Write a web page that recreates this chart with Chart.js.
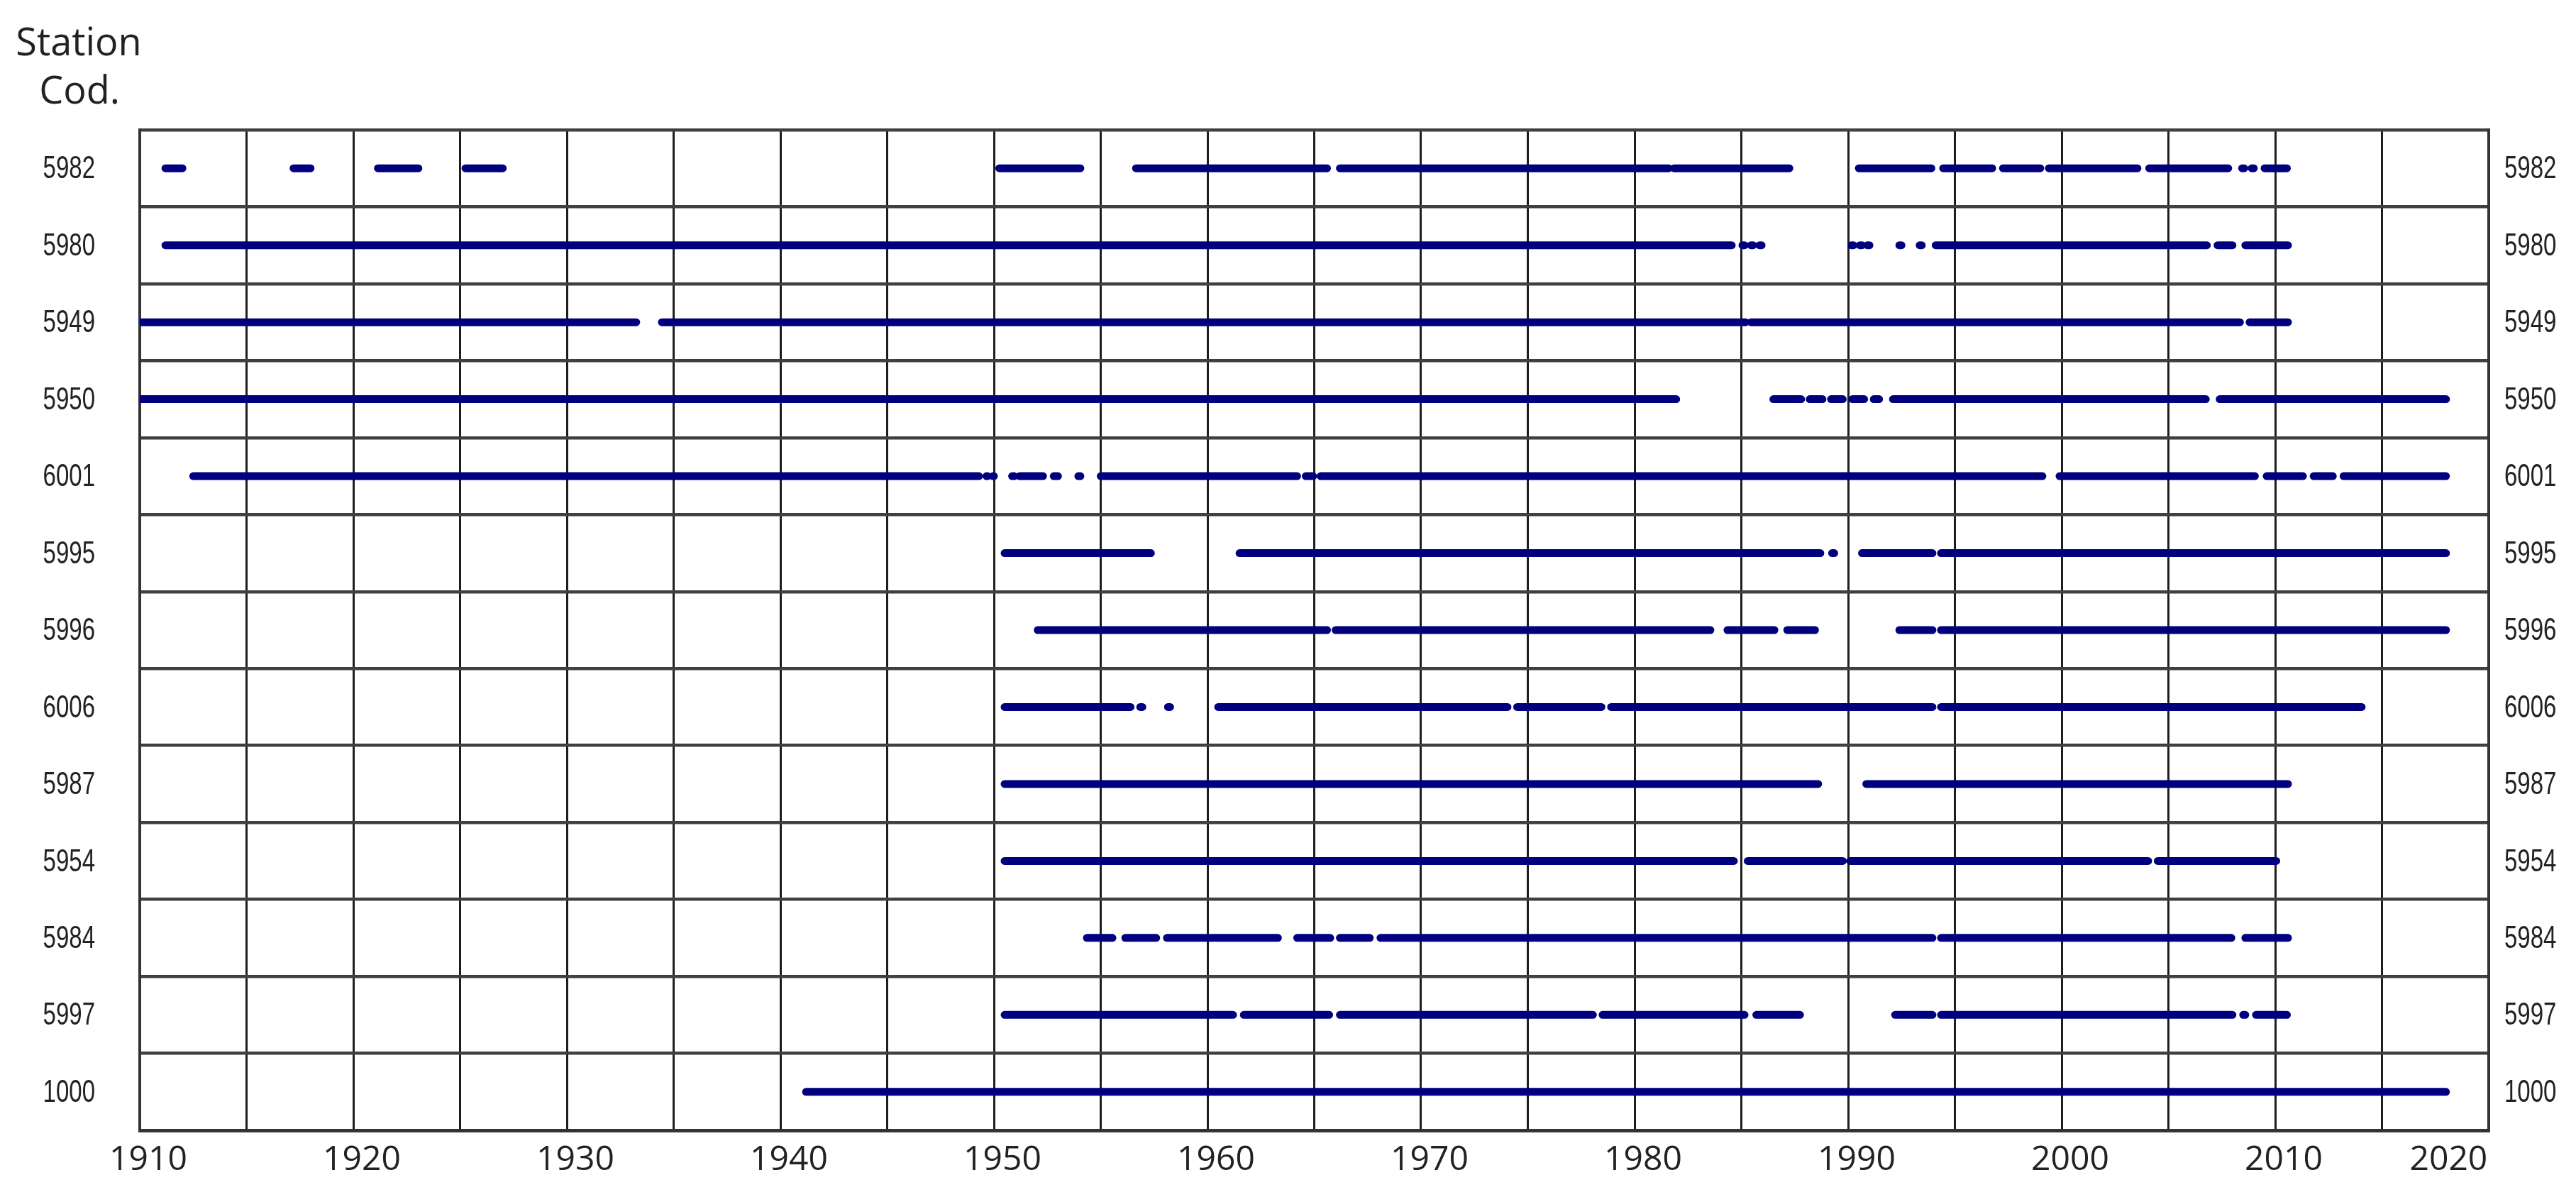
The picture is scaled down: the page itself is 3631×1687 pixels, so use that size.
<!DOCTYPE html>
<html>
<head>
<meta charset="utf-8">
<title>Station record coverage</title>
<script src="https://cdn.jsdelivr.net/npm/chart.js@4.4.1/dist/chart.umd.min.js"></script>
<style>
  html, body { margin: 0; padding: 0; background: #ffffff; }
  #chart-container { width: 3631px; height: 1687px; }
</style>
</head>
<body>
<div id="chart-container"><canvas id="myViz" width="3631" height="1687"></canvas></div>
<script>
// station codes, top to bottom
const stations = ['5982', '5980', '5949', '5950', '6001', '5995', '5996', '6006', '5987', '5954', '5984', '5997', '1000'];

// x axis range (years) and tick step
const yearMin = 1910;
const yearMax = 2020;
const yearStep = 5;

// periods with data, [start, end] in decimal years (short ones are single dots)
const seg5982 = [[1911.2, 1912.0], [1917.2, 1918.0], [1921.15, 1923.05], [1925.25, 1927.0], [1950.25, 1954.05], [1956.65, 1965.6], [1966.2, 1981.6], [1981.85, 1987.25], [1990.5, 1993.9], [1994.45, 1996.75], [1997.25, 1999.0], [1999.4, 2003.55], [2004.1, 2007.8], [2008.45, 2008.55], [2008.9, 2009.0], [2009.5, 2010.55]];
const seg5980 = [[1911.2, 1984.55], [1985.05, 1985.15], [1985.45, 1985.55], [1985.85, 1985.95], [1990.15, 1990.25], [1990.55, 1990.65], [1990.9, 1991.0], [1992.4, 1992.5], [1993.35, 1993.45], [1994.1, 2006.8], [2007.3, 2008.0], [2008.6, 2010.6]];
const seg5949 = [[1910.0, 1933.25], [1934.45, 1985.2], [1985.45, 2008.35], [2008.8, 2010.6]];
const seg5950 = [[1910.0, 1981.95], [1986.5, 1987.8], [1988.2, 1988.8], [1989.2, 1989.75], [1990.2, 1990.75], [1991.2, 1991.45], [1992.1, 2006.75], [2007.4, 2018.0]];
const seg6001 = [[1912.5, 1949.3], [1949.65, 1949.7], [1949.95, 1950.0], [1950.85, 1950.95], [1951.2, 1952.3], [1952.8, 1953.0], [1953.95, 1954.05], [1955.0, 1964.2], [1964.6, 1964.95], [1965.3, 1999.1], [1999.9, 2009.05], [2009.6, 2011.3], [2011.8, 2012.7], [2013.2, 2018.0]];
const seg5995 = [[1950.5, 1957.35], [1961.5, 1988.7], [1989.25, 1989.35], [1990.65, 1993.95], [1994.35, 2018.0]];
const seg5996 = [[1952.05, 1965.6], [1966.0, 1983.55], [1984.35, 1986.55], [1987.15, 1988.45], [1992.4, 1993.95], [1994.35, 2018.0]];
const seg6006 = [[1950.5, 1956.4], [1956.85, 1956.95], [1958.15, 1958.25], [1960.5, 1974.05], [1974.5, 1978.45], [1978.9, 1993.95], [1994.35, 2014.05]];
const seg5987 = [[1950.5, 1988.6], [1990.85, 2010.6]];
const seg5954 = [[1950.5, 1984.65], [1985.3, 1989.75], [1990.1, 2004.05], [2004.5, 2010.05]];
const seg5984 = [[1954.35, 1955.55], [1956.15, 1957.6], [1958.1, 1963.3], [1964.2, 1965.75], [1966.2, 1967.6], [1968.1, 1993.95], [1994.35, 2007.95], [2008.6, 2010.6]];
const seg5997 = [[1950.5, 1961.2], [1961.7, 1965.7], [1966.2, 1978.05], [1978.5, 1985.15], [1985.7, 1987.75], [1992.2, 1993.95], [1994.35, 2008.0], [2008.5, 2008.6], [2009.1, 2010.55]];
const seg1000 = [[1941.2, 2018.0]];

const series = [seg5982, seg5980, seg5949, seg5950, seg6001, seg5995, seg5996, seg6006, seg5987, seg5954, seg5984, seg5997, seg1000];

const NAVY = '#00007f';
const LABEL_COLOR = '#222222';
const SANS = "'Open Sans', 'Noto Sans', sans-serif";
const CODE_FONT = "44px 'Liberation Sans', Arial, sans-serif";

// a null y breaks the line between periods
const toPoints = (code, segs) =>
    segs.flatMap(([a, b]) => [{ x: a, y: code }, { x: b, y: code }, { x: b, y: null }]);

// condensed text, like the narrow station codes of the original
const drawNarrow = (ctx, text, x, y, align) => {
    ctx.save();
    ctx.translate(x, y);
    ctx.scale(0.75, 1);
    ctx.textAlign = align;
    ctx.fillText(text, 0, 0);
    ctx.restore();
};

const stationLabels = {
    id: 'stationLabels',
    afterDraw(chart) {
        const { ctx, chartArea, scales } = chart;
        ctx.save();
        ctx.fillStyle = LABEL_COLOR;
        ctx.textBaseline = 'middle';

        // codes on both sides, placed by the category scale
        ctx.font = CODE_FONT;
        stations.forEach((code, i) => {
            const y = scales.y.getPixelForValue(i) + 2;
            drawNarrow(ctx, code, chartArea.left - 63, y, 'right');
            drawNarrow(ctx, code, chartArea.right + 22, y, 'left');
        });

        // "Station Cod." heading
        ctx.font = '54px ' + SANS;
        ctx.textAlign = 'center';
        ctx.textBaseline = 'alphabetic';
        ctx.fillText('Station', 111, 78);
        ctx.fillText('Cod.', 112, 146);
        ctx.restore();
    },
};

// decade labels only; the last one sits pulled in from the frame edge
const yearLabel = (v) => {
    if (v % 10 !== 0) return '';
    return v === yearMax ? String(v) + '           ' : String(v);
};

const config = {
    type: 'line',
    plugins: [stationLabels],
    data: {
        datasets: stations.map((code, i) => ({
            label: code,
            data: toPoints(code, series[i]),
            borderColor: NAVY,
            backgroundColor: NAVY,
            borderWidth: 11,
            borderCapStyle: 'round',
            pointRadius: 0,
            spanGaps: false,
            clip: 0,
            yAxisID: 'y',
        })),
    },
    options: {
        responsive: false,
        animation: false,
        devicePixelRatio: 1,
        layout: { padding: { top: 183, left: 0, right: 0, bottom: 0 } },
        plugins: {
            legend: { display: false },
            tooltip: { enabled: false },
        },
        scales: {
            x: {
                type: 'linear',
                min: yearMin,
                max: yearMax,
                afterFit: (scale) => {
                    scale.height = 94;
                    // side axes already leave room for the end labels
                    scale.paddingLeft = 0;
                    scale.paddingRight = 0;
                },
                grid: { color: '#1e1e1e', lineWidth: 3, drawTicks: false },
                border: { display: true, color: '#333333', width: 5 },
                ticks: {
                    stepSize: yearStep,
                    autoSkip: false,
                    maxRotation: 0,
                    labelOffset: 12,
                    padding: 14,
                    color: LABEL_COLOR,
                    font: { family: SANS, size: 48 },
                    callback: yearLabel,
                },
            },
            y: {
                type: 'category',
                labels: stations,
                position: 'left',
                offset: true,
                afterFit: (scale) => { scale.width = 197; },
                grid: { offset: true, color: '#404040', lineWidth: 4.5, drawTicks: false },
                border: { display: true, color: '#333333', width: 4 },
                ticks: { display: false },
            },
            y2: {
                type: 'category',
                labels: stations,
                position: 'right',
                display: true,
                offset: true,
                afterFit: (scale) => { scale.width = 123; },
                grid: { display: false, drawTicks: false },
                border: { display: true, color: '#333333', width: 4 },
                ticks: { display: false },
            },
        },
    },
};

const ctx = document.getElementById('myViz').getContext('2d');
const myChart = new Chart(ctx, config);
</script>
</body>
</html>
